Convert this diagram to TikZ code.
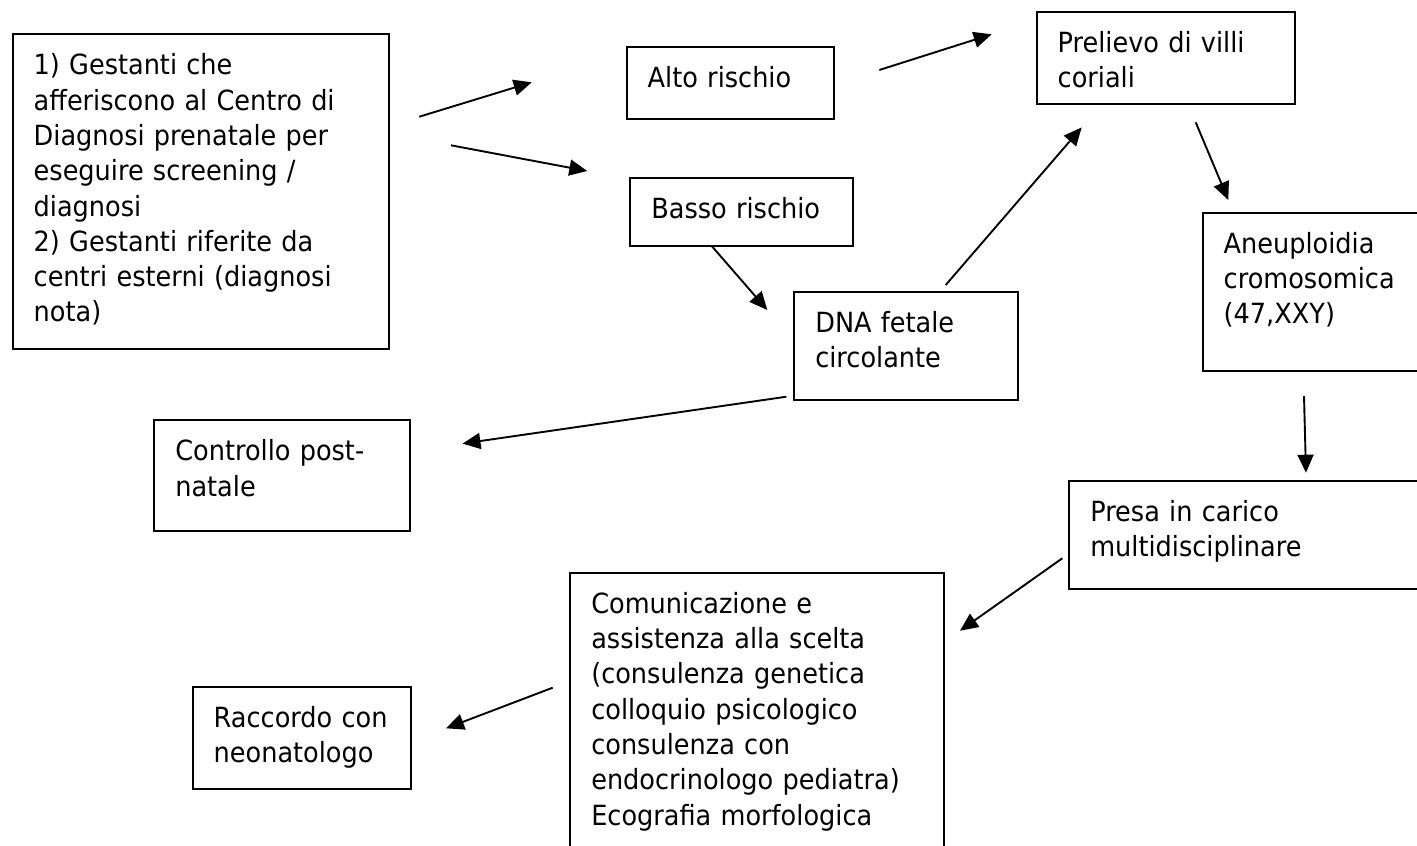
\documentclass[tikz,border=0pt]{standalone}
\usepackage{fontspec}
\setmainfont{DejaVu Sans}[FakeStretch=0.92]
\usetikzlibrary{arrows.meta}
\begin{document}
\begin{tikzpicture}[x=1pt,y=-1pt,
  box/.style={draw, line width=2pt, anchor=north west, align=left,
    inner xsep=21pt, inner ysep=0pt, text height=40.5pt,
    font=\fontsize{27.8}{35.3}\selectfont},
  arr/.style={-{Triangle[length=18pt,width=16pt]}, line width=1.9pt}]
\useasboundingbox (0,0) rectangle (1417,846);
\clip (0,0) rectangle (1417,846);

% boxes
\node[box, text width=334.6pt, text depth=273.9pt] (src) at (11.7,33.3)
  {1) Gestanti che\\afferiscono al Centro di\\Diagnosi prenatale per\\eseguire screening /\\diagnosi\\2) Gestanti riferite da\\centri esterni (diagnosi\\nota)};
\node[box, text width=165pt, text depth=32.1pt] (alto) at (625.7,45.7) {Alto rischio};
\node[box, text width=181pt, text depth=27.8pt] (basso) at (629.3,176.7) {\mbox{Basso rischio}};
\node[box, text width=181.4pt, text depth=67.5pt] (dna) at (793.3,291) {DNA fetale\\circolante};
\node[box, text width=216.6pt, text depth=52.1pt] (prel) at (1035.7,10.7) {Prelievo di villi\\coriali};
\node[box, text width=188pt, text depth=117.8pt] (aneu) at (1201.7,211.7) {Aneuploidia\\cromosomica\\(47,XXY)};
\node[box, text width=213.4pt, text depth=70.2pt] (ctrl) at (153.3,419.3) {Controllo post-\\natale};
\node[box, text width=328pt, text depth=67pt] (presa) at (1068.3,480) {Presa in carico\\multidisciplinare};
\node[box, text width=332pt, text depth=249.5pt] (comm) at (569.3,571.7)
  {Comunicazione e\\assistenza alla scelta\\(consulenza genetica\\colloquio psicologico\\consulenza con\\endocrinologo pediatra)\\Ecografia morfologica};
\node[box, text width=176.6pt, text depth=62.1pt] (racc) at (191.7,685.7) {\mbox{Raccordo con}\\neonatologo};

% connector end points
\coordinate (a1s) at (419.3,116.7);  \coordinate (a1e) at (531.7,82.3);
\coordinate (a2s) at (451,145.3);    \coordinate (a2e) at (587.3,171);
\coordinate (a3s) at (879.3,70);     \coordinate (a3e) at (991.7,34.3);
\coordinate (a4s) at (711.7,246);    \coordinate (a4e) at (767.3,310);
\coordinate (a5s) at (945.7,285);    \coordinate (a5e) at (1081.7,127.4);
\coordinate (a6s) at (1195.7,122.3); \coordinate (a6e) at (1228.3,200);
\coordinate (a7s) at (1304,396);     \coordinate (a7e) at (1306,472.7);
\coordinate (a8s) at (786.4,396.7);  \coordinate (a8e) at (462.5,443.6);
\coordinate (a9s) at (1062.3,558.3); \coordinate (a9e) at (960,630.7);
\coordinate (a10s) at (552.7,687.7); \coordinate (a10e) at (446,728.3);

\draw[arr] (a1s) -- (a1e);
\draw[arr] (a2s) -- (a2e);
\draw[arr] (a3s) -- (a3e);
\draw[arr] (a4s) -- (a4e);
\draw[arr] (a5s) -- (a5e);
\draw[arr] (a6s) -- (a6e);
\draw[arr] (a7s) -- (a7e);
\draw[arr] (a8s) -- (a8e);
\draw[arr] (a9s) -- (a9e);
\draw[arr] (a10s) -- (a10e);
\end{tikzpicture}
\end{document}
